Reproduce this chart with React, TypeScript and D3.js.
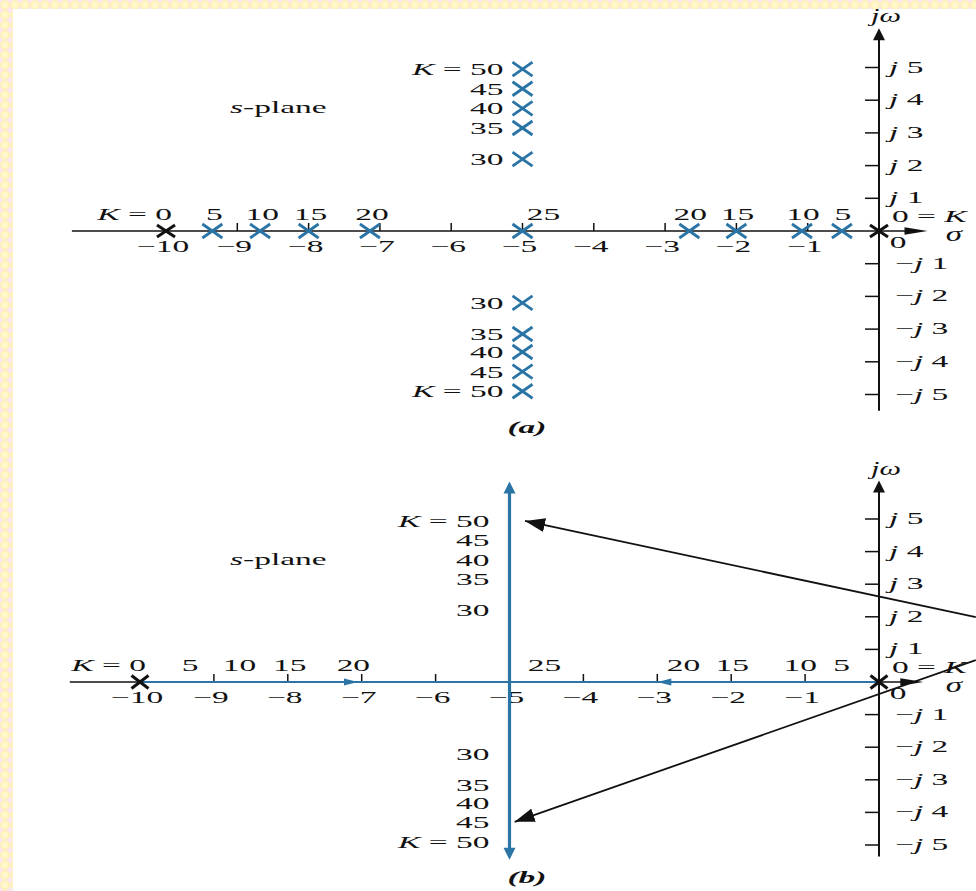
import React from 'react';
import * as d3 from 'd3';

const W = 976;
const H = 891;
const SX = 1.97; // lettering is drawn wide
const FS = 17;
const FONT = '"Liberation Serif", "Times New Roman", serif';
const BLUE = '#2A74A6';
const INK = '#111';

// Real-axis ticks and their labels
const realTicks = [-9, -8, -7, -6, -5, -4, -3, -2, -1];
const realTickValues = [-10, -9, -8, -7, -6, -5, -4, -3, -2, -1];
const realTickLabels = ['−10', '−9', '−8', '−7', '−6', '−5', '−4', '−3', '−2', '−1'];
// Imaginary-axis ticks and their labels
const imagTicks = [5, 4, 3, 2, 1, -1, -2, -3, -4, -5];
const imagTickLabels = ['5', '4', '3', '2', '1', '1', '2', '3', '4', '5'];

// Open-loop poles (K = 0)
const openLoopPoles = [-10, 0];
// Closed-loop poles on the real axis
const realGains = [5, 10, 15, 20];
const leftBranch = [-9.35, -8.68, -8.0, -7.14];
const rightBranch = [-0.52, -1.08, -2.0, -2.66];
const breakawayGain = 25;
const breakawaySigma = -5;
// Closed-loop poles off the real axis (sigma = -5)
const complexGains = [30, 35, 40, 45, 50];
const upperBranch = [2.2, 3.15, 3.75, 4.35, 4.95];
const lowerBranch = [-2.2, -3.15, -3.7, -4.3, -4.9];

// Axis extents in s-plane units
const sigmaAxisA = [-11.32, 0.68];
const sigmaAxisB = [-10.95, 0.6];
const omegaAxisA = [-5.5, 6.2];
const omegaAxisB = [-5.35, 6.18];
// Locus extents in panel (b)
const verticalLocus = [-5.45, 6.15];
const flowArrows = [
  { sigma: -7.05, dir: 1 },
  { sigma: -3.0, dir: -1 },
];
// Callout arrows in panel (b): [sigma, omega]
const calloutFrom = [
  [1.31, 1.99],
  [1.31, 0.67],
];
const calloutTo = [
  [-4.79, 4.94],
  [-4.93, -4.29],
];

type Sc = d3.ScaleLinear<number, number>;

function T({ x, y, anchor = 'start', size = FS, weight = 'normal', italic = false, sx = SX, children }: any) {
  return (
    <text
      transform={`translate(${x},${y}) scale(${sx},1)`}
      textAnchor={anchor}
      fontFamily={FONT}
      fontSize={size}
      fontWeight={weight}
      fontStyle={italic ? 'italic' : 'normal'}
      fill={INK}
    >
      {children}
    </text>
  );
}

function Cross({ cx, cy, w, h, color, sw }: any) {
  return (
    <g stroke={color} strokeWidth={sw} strokeLinecap="butt">
      <line x1={cx - w / 2} y1={cy - h / 2} x2={cx + w / 2} y2={cy + h / 2} />
      <line x1={cx - w / 2} y1={cy + h / 2} x2={cx + w / 2} y2={cy - h / 2} />
    </g>
  );
}

function head(tx: number, ty: number, ang: number, len: number, half: number) {
  const c = Math.cos(ang);
  const s = Math.sin(ang);
  const bx = tx - c * len;
  const by = ty - s * len;
  return `${tx},${ty} ${bx - s * half},${by + c * half} ${bx + s * half},${by - c * half}`;
}

function KLabel({ value }: { value: number }) {
  return (
    <>
      <tspan fontStyle="italic">K</tspan>
      {` = ${value}`}
    </>
  );
}

function Axes({ x, y, sigmaExt, omegaExt }: { x: Sc; y: Sc; sigmaExt: number[]; omegaExt: number[] }) {
  const x0 = x(0);
  const y0 = y(0);
  const xL = x(sigmaExt[0]);
  const xR = x(sigmaExt[1]);
  const yT = y(omegaExt[1]);
  const yB = y(omegaExt[0]);
  return (
    <g>
      <line x1={xL} y1={y0} x2={xR - 14} y2={y0} stroke={INK} strokeWidth={1.5} />
      <polygon points={head(xR, y0, 0, 23, 3.8)} fill={INK} />
      <line x1={x0} y1={yB} x2={x0} y2={yT + 8} stroke={INK} strokeWidth={2} />
      <polygon points={head(x0, yT, -Math.PI / 2, 12, 6)} fill={INK} />
      {realTicks.map((t) => (
        <line key={t} x1={x(t)} x2={x(t)} y1={y0 - 8} y2={y0} stroke={INK} strokeWidth={1.5} />
      ))}
      {imagTicks.map((t) => (
        <line key={t} x1={x0 - 14} x2={x0} y1={y(t)} y2={y(t)} stroke={INK} strokeWidth={1.5} />
      ))}
      {realTickValues.map((v, i) => (
        <T key={v} x={x(v) - 3} y={y0 + 21} anchor="middle">
          {realTickLabels[i]}
        </T>
      ))}
      <T x={x0 + 19} y={y0 + 17} anchor="middle">0</T>
      {imagTicks.map((t, i) => (
        <T key={t} x={t > 0 ? x0 + 10 : x0 + 16} y={y(t) + 5}>
          {t < 0 ? '−' : ''}
          <tspan fontStyle="italic">j</tspan>
          {` ${imagTickLabels[i]}`}
        </T>
      ))}
      <T x={x0 + 7} y={yT - 6} anchor="middle" italic size={19} sx={1.6}>
        jω
      </T>
      <T x={x0 + 75} y={y0 + 10} anchor="middle" italic size={22} sx={1.5}>
        σ
      </T>
      <T x={x0 + 13} y={y0 - 9.5}>
        {'0 = '}
        <tspan fontStyle="italic">K</tspan>
      </T>
    </g>
  );
}

function RealGainLabels({ x, y, breakOffset }: { x: Sc; y: Sc; breakOffset: number }) {
  const yl = y(0) - 11;
  return (
    <g>
      <T x={x(openLoopPoles[0]) + 6} y={yl} anchor="end">
        <KLabel value={0} />
      </T>
      {realGains.map((k, i) => (
        <T key={'l' + k} x={x(leftBranch[i]) + 2} y={yl} anchor="middle">
          {k}
        </T>
      ))}
      {realGains.map((k, i) => (
        <T key={'r' + k} x={x(rightBranch[i]) + 1} y={yl} anchor="middle">
          {k}
        </T>
      ))}
      <T x={x(breakawaySigma) + breakOffset} y={yl} anchor="middle">
        {breakawayGain}
      </T>
    </g>
  );
}

function ComplexGainLabels({ x, y, gap }: { x: Sc; y: Sc; gap: number }) {
  const xr = x(breakawaySigma) - gap;
  const n = complexGains.length;
  return (
    <g>
      {complexGains.map((k, i) => (
        <T key={'u' + k} x={xr} y={y(upperBranch[i]) + 6} anchor="end">
          {i === n - 1 ? <KLabel value={k} /> : k}
        </T>
      ))}
      {complexGains.map((k, i) => (
        <T key={'d' + k} x={xr} y={y(lowerBranch[i]) + 6} anchor="end">
          {i === n - 1 ? <KLabel value={k} /> : k}
        </T>
      ))}
    </g>
  );
}

function PanelA() {
  const x = d3.scaleLinear().domain([-10, 0]).range([166, 879]);
  const y = d3.scaleLinear().domain([-5, 5]).range([394.5, 67.5]);
  const y0 = y(0);
  const cw = 20;
  const ch = 14;
  return (
    <g>
      <T x={230} y={113}>
        <tspan fontStyle="italic">s</tspan>-plane
      </T>
      <Axes x={x} y={y} sigmaExt={sigmaAxisA} omegaExt={omegaAxisA} />
      <RealGainLabels x={x} y={y} breakOffset={21} />
      <ComplexGainLabels x={x} y={y} gap={19} />
      {leftBranch.concat(rightBranch).map((s, i) => (
        <Cross key={'rb' + i} cx={x(s)} cy={y0} w={cw} h={ch} color={BLUE} sw={2.8} />
      ))}
      <Cross cx={x(breakawaySigma)} cy={y0} w={cw} h={ch} color={BLUE} sw={2.8} />
      {upperBranch.concat(lowerBranch).map((w, i) => (
        <Cross key={'cb' + i} cx={x(breakawaySigma)} cy={y(w)} w={cw} h={ch} color={BLUE} sw={2.8} />
      ))}
      {openLoopPoles.map((p) => (
        <Cross key={p} cx={x(p)} cy={y0} w={18} h={12} color={INK} sw={3} />
      ))}
      <T x={527} y={433} anchor="middle" weight="bold" italic>
        (a)
      </T>
    </g>
  );
}

function PanelB() {
  const x = d3.scaleLinear().domain([-10, 0]).range([140, 879]);
  const y = d3.scaleLinear().domain([-5, 5]).range([845, 519]);
  const y0 = y(0);
  const xv = x(breakawaySigma);
  const yTop = y(verticalLocus[1]);
  const yBot = y(verticalLocus[0]);
  return (
    <g>
      <defs>
        <marker id="blk" viewBox="0 0 20 14" refX={20} refY={7} markerWidth={20} markerHeight={14} markerUnits="userSpaceOnUse" orient="auto">
          <path d="M0,0 L20,7 L0,14 Z" fill={INK} />
        </marker>
      </defs>
      <T x={230} y={565}>
        <tspan fontStyle="italic">s</tspan>-plane
      </T>
      <Axes x={x} y={y} sigmaExt={sigmaAxisB} omegaExt={omegaAxisB} />
      {/* root locus branches */}
      <line x1={x(openLoopPoles[0])} x2={x(openLoopPoles[1])} y1={y0} y2={y0} stroke={BLUE} strokeWidth={2} />
      {flowArrows.map((a) => (
        <polygon key={a.sigma} points={head(x(a.sigma), y0, a.dir > 0 ? 0 : Math.PI, 14, 3.5)} fill={BLUE} />
      ))}
      <line x1={xv} x2={xv} y1={yTop + 10} y2={yBot - 10} stroke={BLUE} strokeWidth={3.2} />
      <polygon points={head(xv, yTop, -Math.PI / 2, 12, 6)} fill={BLUE} />
      <polygon points={head(xv, yBot, Math.PI / 2, 12, 6)} fill={BLUE} />
      <RealGainLabels x={x} y={y} breakOffset={35} />
      <ComplexGainLabels x={x} y={y} gap={20} />
      {openLoopPoles.map((p) => (
        <Cross key={p} cx={x(p)} cy={y0} w={17} h={13} color={INK} sw={3} />
      ))}
      {calloutFrom.map((f, i) => (
        <line
          key={i}
          x1={x(f[0])}
          y1={y(f[1])}
          x2={x(calloutTo[i][0])}
          y2={y(calloutTo[i][1])}
          stroke={INK}
          strokeWidth={1.8}
          markerEnd="url(#blk)"
        />
      ))}
      <T x={527} y={883} anchor="middle" weight="bold" italic>
        (b)
      </T>
    </g>
  );
}

export default function App() {
  return (
    <svg
      width={W}
      height={H}
      viewBox={`0 0 ${W} ${H}`}
      style={{ position: 'absolute', left: 0, top: 0, background: '#fff' }}
    >
      <defs>
        <pattern id="trim" width={10} height={10} patternUnits="userSpaceOnUse">
          <rect width={10} height={10} fill="#FCE6F0" />
          <circle cx={5} cy={5} r={4.4} fill="#FFF6C2" stroke="#FBEFA8" strokeWidth={0.8} />
          <circle cx={5} cy={5} r={1.6} fill="#FFF9D9" />
        </pattern>
      </defs>
      <rect width={W} height={H} fill="#fff" />
      <rect x={0} y={0} width={W} height={9} fill="url(#trim)" />
      <rect x={0} y={0} width={13} height={H} fill="url(#trim)" />
      <PanelA />
      <PanelB />
    </svg>
  );
}
